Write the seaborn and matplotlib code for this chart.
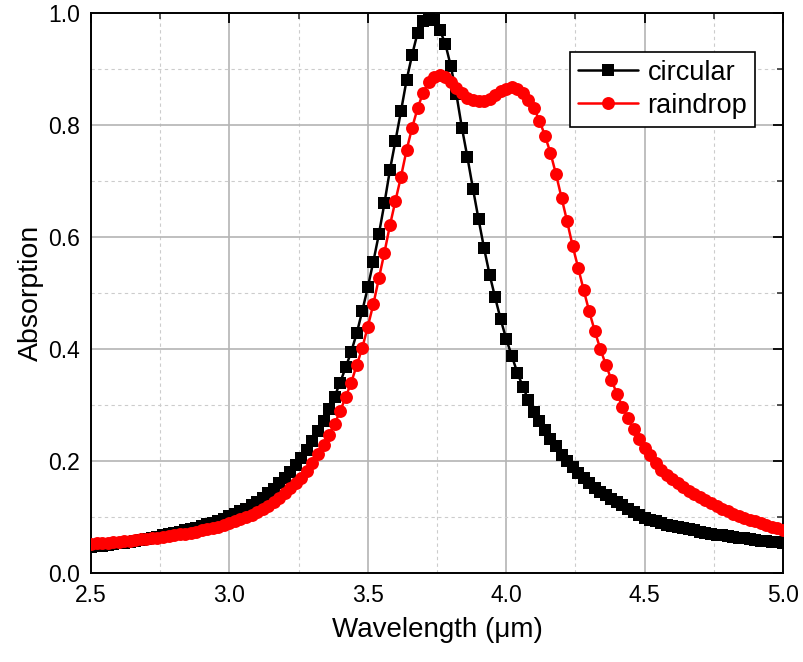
import numpy as np
import pandas as pd
import matplotlib
matplotlib.use("Agg")
import matplotlib.pyplot as plt
from matplotlib.ticker import MultipleLocator
import seaborn as sns

# wavelength grid (um), step 0.02
wavelength = np.round(np.arange(2.50, 5.0001, 0.02), 2)

circular = [
    0.047, 0.048, 0.049, 0.050, 0.051, 0.053, 0.054, 0.056, 0.057, 0.059,
    0.061, 0.063, 0.065, 0.067, 0.069, 0.071, 0.073, 0.076, 0.078, 0.081,
    0.084, 0.087, 0.090, 0.093, 0.097, 0.101, 0.105, 0.110, 0.115, 0.121,
    0.127, 0.134, 0.142, 0.150, 0.160, 0.170, 0.181, 0.193, 0.206, 0.220,
    0.236, 0.254, 0.272, 0.292, 0.315, 0.340, 0.367, 0.395, 0.428, 0.468,
    0.510, 0.556, 0.605, 0.660, 0.720, 0.772, 0.825, 0.880, 0.925, 0.965,
    0.985, 0.990, 0.988, 0.970, 0.945, 0.905, 0.855, 0.795, 0.742, 0.686,
    0.632, 0.580, 0.533, 0.492, 0.453, 0.418, 0.388, 0.358, 0.333, 0.309,
    0.288, 0.271, 0.255, 0.240, 0.226, 0.211, 0.200, 0.189, 0.178, 0.169,
    0.160, 0.152, 0.145, 0.139, 0.133, 0.127, 0.121, 0.115, 0.109, 0.103,
    0.098, 0.095, 0.092, 0.089, 0.086, 0.084, 0.082, 0.080, 0.078, 0.076,
    0.074, 0.072, 0.070, 0.068, 0.067, 0.066, 0.064, 0.063, 0.062, 0.061,
    0.059, 0.058, 0.057, 0.056, 0.055, 0.054,
]

raindrop = [
    0.052, 0.053, 0.054, 0.054, 0.055, 0.056, 0.057, 0.058, 0.059, 0.060,
    0.061, 0.062, 0.063, 0.064, 0.066, 0.067, 0.069, 0.070, 0.072, 0.074,
    0.076, 0.078, 0.080, 0.083, 0.086, 0.089, 0.092, 0.096, 0.100, 0.104,
    0.109, 0.114, 0.120, 0.127, 0.134, 0.142, 0.151, 0.160, 0.170, 0.182,
    0.196, 0.212, 0.229, 0.247, 0.266, 0.289, 0.314, 0.340, 0.371, 0.402,
    0.440, 0.480, 0.526, 0.572, 0.621, 0.665, 0.708, 0.755, 0.795, 0.830,
    0.858, 0.876, 0.886, 0.889, 0.885, 0.876, 0.866, 0.857, 0.849, 0.844,
    0.842, 0.843, 0.847, 0.853, 0.860, 0.865, 0.867, 0.864, 0.857, 0.845,
    0.830, 0.808, 0.781, 0.750, 0.712, 0.670, 0.628, 0.584, 0.545, 0.505,
    0.467, 0.432, 0.400, 0.372, 0.345, 0.320, 0.297, 0.276, 0.258, 0.240,
    0.224, 0.210, 0.196, 0.184, 0.175, 0.167, 0.160, 0.153, 0.147, 0.141,
    0.135, 0.130, 0.125, 0.120, 0.115, 0.110, 0.106, 0.102, 0.098, 0.095,
    0.092, 0.089, 0.086, 0.083, 0.080, 0.077,
]

x_ticks = [2.5, 3.0, 3.5, 4.0, 4.5, 5.0]
y_ticks = [0.0, 0.2, 0.4, 0.6, 0.8, 1.0]

sns.set_style("white")
plt.rcParams['font.family'] = ['Liberation Sans', 'DejaVu Sans']
plt.rcParams['text.color'] = 'black'
plt.rcParams['axes.labelcolor'] = 'black'

df = pd.DataFrame({"wl": wavelength, "circular": circular, "raindrop": raindrop})

fig = plt.figure(figsize=(8.04, 6.62), dpi=100)
ax = fig.add_axes([91/804, 1 - 573/662, (783-91)/804, (573-13)/662])

sns.lineplot(data=df, x="wl", y="circular", ax=ax, color="black", linewidth=1.8,
             marker="s", markersize=8.3, markeredgewidth=0, markerfacecolor="black",
             estimator=None, label="circular", zorder=3)
sns.lineplot(data=df, x="wl", y="raindrop", ax=ax, color="#ff0000", linewidth=1.8,
             marker="o", markersize=9.3, markeredgewidth=0, markerfacecolor="#ff0000",
             estimator=None, label="raindrop", zorder=4)

ax.set_xlim(2.5, 5.0)
ax.set_ylim(0.0, 1.0)
ax.set_xticks(x_ticks)
ax.set_yticks(y_ticks)
ax.set_xticklabels([f"{v:.1f}" for v in x_ticks])
ax.set_yticklabels([f"{v:.1f}" for v in y_ticks])
ax.xaxis.set_minor_locator(MultipleLocator(0.25))
ax.yaxis.set_minor_locator(MultipleLocator(0.1))

ax.grid(True, which="major", color="#b4b4b4", linestyle="-", linewidth=1.2, zorder=0)
ax.grid(True, which="minor", color="#cccccc", linestyle=(0, (3, 3)), linewidth=0.8, zorder=0)
ax.set_axisbelow(True)

ax.tick_params(which="major", direction="in", length=7, width=1.3, top=True, right=True,
               labelsize=16.5, colors="black", pad=8)
ax.tick_params(which="minor", direction="in", length=4.5, width=1.1, top=True, right=True)
for s in ax.spines.values():
    s.set_color("black")
    s.set_linewidth(1.4)

ax.set_xlabel("Wavelength (\u03bcm)", fontsize=20, labelpad=7, color="black")
ax.set_ylabel("Absorption", fontsize=20.5, labelpad=3, color="black")

leg = ax.legend(loc="upper right", bbox_to_anchor=(0.960, 0.931), fontsize=19.5,
                frameon=True, fancybox=False, edgecolor="black", framealpha=1,
                handlelength=2.2, borderpad=0.3, labelspacing=0.25, handletextpad=0.35,
                borderaxespad=0)
leg.get_frame().set_linewidth(1.2)

fig.savefig("out.png", dpi=100)
